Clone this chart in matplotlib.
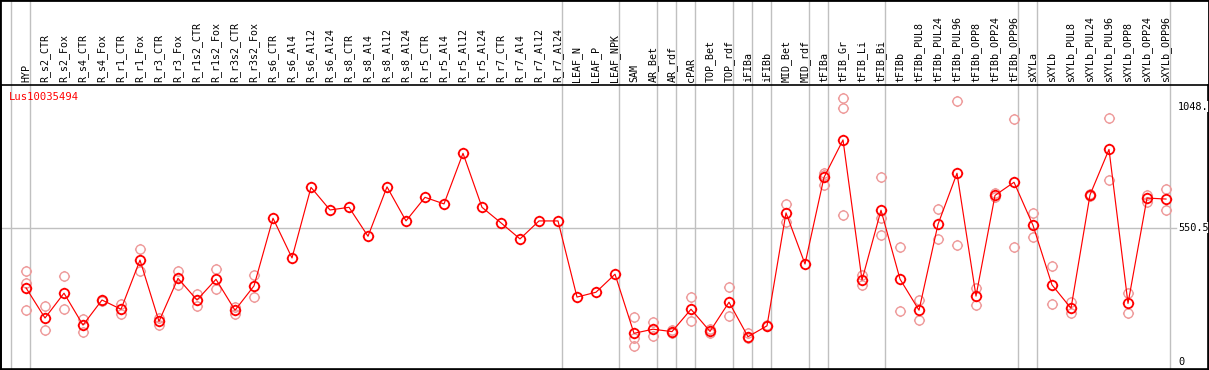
import matplotlib
matplotlib.use("Agg")
import matplotlib.pyplot as plt
from matplotlib.path import Path
from matplotlib.patches import Rectangle

title = "Lus10035494"
categories = ["HYP", "R_s2_CTR", "R_s2_Fox", "R_s4_CTR", "R_s4_Fox", "R_r1_CTR", "R_r1_Fox",
              "R_r3_CTR", "R_r3_Fox", "R_r1s2_CTR", "R_r1s2_Fox", "R_r3s2_CTR", "R_r3s2_Fox",
              "R_s6_CTR", "R_s6_Al4", "R_s6_Al12", "R_s6_Al24", "R_s8_CTR", "R_s8_Al4",
              "R_s8_Al12", "R_s8_Al24", "R_r5_CTR", "R_r5_Al4", "R_r5_Al12", "R_r5_Al24",
              "R_r7_CTR", "R_r7_Al4", "R_r7_Al12", "R_r7_Al24", "LEAF_N", "LEAF_P", "LEAF_NPK",
              "SAM", "AR_Bet", "AR_rdf", "cPAR", "TOP_Bet", "TOP_rdf", "iFIBa", "iFIBb",
              "MID_Bet", "MID_rdf", "tFIBa", "tFIB_Gr", "tFIB_Li", "tFIB_Bi", "tFIBb",
              "tFIBb_PUL8", "tFIBb_PUL24", "tFIBb_PUL96", "tFIBb_OPP8", "tFIBb_OPP24",
              "tFIBb_OPP96", "sXYLa", "sXYLb", "sXYLb_PUL8", "sXYLb_PUL24", "sXYLb_PUL96",
              "sXYLb_OPP8", "sXYLb_OPP24", "sXYLb_OPP96"]

mean_values = [304, 180, 282, 151, 254, 216, 418, 166, 343, 254, 339, 212, 312,
               590, 427, 717, 624, 635, 516, 719, 579, 676, 649, 857, 635,
               571, 505, 579, 579, 266, 286, 360,
               117, 134, 124, 216, 125, 245, 103, 148,
               612, 402, 758, 912, 336, 623, 340,
               212, 565, 775, 270, 684, 738,
               561, 316, 220, 686, 873, 240, 673, 669]

replicates = [[373, 322, 212], [228, 130], [353, 217], [177, 124], [256, 250], [238, 196],
              [464, 373], [179, 152], [373, 314], [280, 228], [381, 298], [224, 198],
              [356, 266],
              [], [], [], [], [], [], [], [], [], [], [], [], [], [], [], [], [], [], [],
              [185, 97, 66], [162, 105], [130, 118], [266, 166], [134, 117], [306, 188],
              [117, 97], [151, 146],
              [649, 573], [], [777, 767, 727], [1083, 1042, 602], [357, 314],
              [758, 590, 520], [473, 208],
              [253, 171], [627, 503], [1072, 479], [303, 232], [693, 676], [997, 473],
              [610, 512], [393, 238], [247, 199], [690, 682], [1001, 746], [284, 199],
              [687, 658], [709, 623]]

# group separators are drawn after these categories (plus one before the first)
separator_after = ["HYP", "R_r7_Al24", "LEAF_NPK", "AR_Bet", "AR_rdf", "cPAR", "TOP_rdf",
                   "iFIBa", "iFIBb", "MID_rdf", "tFIBa", "tFIB_Bi", "tFIBb_OPP96", "sXYLa",
                   "sXYLb_OPP96"]

y_ticks = [0, 550.5, 1048]
y_tick_labels = ["0", "550.5", "1048."]

# ---- figure geometry (pixels) ----
W, H = 1209, 370
DPI = 100
fig = plt.figure(figsize=(W / DPI, H / DPI), dpi=DPI)
ax_left, ax_right, ax_top, ax_bottom = 1, 1208, 85, 369
ax = fig.add_axes([ax_left / W, 1 - ax_bottom / H, (ax_right - ax_left) / W, (ax_bottom - ax_top) / H])

step = 19.0
x0_px = 26.0
ax.set_xlim((ax_left - x0_px) / step, (ax_right - x0_px) / step)
ppu = 0.2433
zero_px = 361.8
ax.set_ylim((zero_px - ax_bottom) / ppu, (zero_px - ax_top) / ppu)
ax.set_xticks([])
ax.set_yticks([])
for s in ax.spines.values():
    s.set_color("black")
    s.set_linewidth(1.2)

# custom marker: circle with four small ticks
circ = Path.unit_circle()
ticks = [Path([(0, 1), (0, 1.22)], [Path.MOVETO, Path.LINETO]),
         Path([(0, -1), (0, -1.22)], [Path.MOVETO, Path.LINETO]),
         Path([(1, 0), (1.22, 0)], [Path.MOVETO, Path.LINETO]),
         Path([(-1, 0), (-1.22, 0)], [Path.MOVETO, Path.LINETO])]
gear = Path.make_compound_path(circ, *ticks)

red = "#ff0000"
light = "#ee9a9a"
grey = "#c0c0c0"

idx = list(range(len(categories)))
ytop_frac = ax_bottom / (ax_bottom - ax_top)  # axes fraction reaching figure top

# separators
sep_pos = [-1] + [categories.index(c) for c in separator_after]
for p in sep_pos:
    ax.axvline(p + 4 / step, ymin=0, ymax=ytop_frac, color=grey, lw=1.0, clip_on=False, zorder=0)

# horizontal reference line
ax.axhline(550.5, xmin=0, xmax=(1176 - ax_left) / (ax_right - ax_left), color=grey, lw=1.0, zorder=0)

# replicates
for i, reps in zip(idx, replicates):
    if reps:
        ax.plot([i] * len(reps), reps, linestyle="none", marker=gear, markersize=8.0,
                markerfacecolor="none", markeredgecolor=light, markeredgewidth=1.0, zorder=2)

# mean line
ax.plot(idx, mean_values, color=red, lw=0.85, zorder=3)
ax.plot(idx, mean_values, linestyle="none", marker=gear, markersize=8.2,
        markerfacecolor="none", markeredgecolor=red, markeredgewidth=1.3, zorder=4)

# category labels
mono = "DejaVu Sans Mono"
xt = ax.get_xaxis_transform()
for i, c in zip(idx, categories):
    ax.text(i, 1 + 2.5 / (ax_bottom - ax_top), c, rotation=90, ha="center", va="bottom",
            fontsize=7.2, family=mono, color="black", transform=xt, clip_on=False)

# y tick labels at right
for v, lab in zip(y_ticks, y_tick_labels):
    ax.text((1178 - x0_px) / step, v, lab, ha="left", va="center", fontsize=7.4,
            family=mono, color="black", zorder=5,
            bbox=dict(facecolor="white", edgecolor="none", pad=0.3))

# title
ax.text((9 - x0_px) / step, (zero_px - 97) / ppu, title, ha="left", va="center",
        fontsize=7.6, family=mono, color=red, zorder=5)

# outer frame
fig.patches.append(Rectangle((0, 0), 1, 1, transform=fig.transFigure, fill=False,
                             edgecolor="black", lw=2.0))

fig.savefig("out.png", dpi=DPI)
